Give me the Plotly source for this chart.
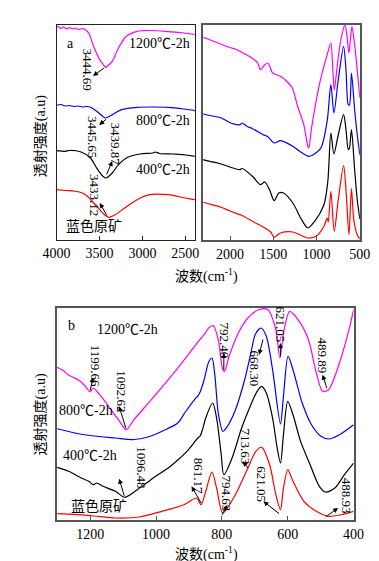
import plotly.graph_objects as go

# ---------------- Panel a (FTIR full range) ----------------
a_1200_wn = [4000,3980,3950,3920,3880,3850,3810,3780,3740,3700,3663,3620,3569,3497,3460,3431,3400,3351,3279,3188,3062,2989,2900,2736,2518,2391,
             2310,2011,1921,1850,1760,1680,1651,1598,1562,1508,1417,1346,1281,1220,1148,1101,1090,1058,968,878,835,815,796,760,720,673,650,626,610,591,560,530,500]
a_1200_tr = [212.7,213.5,211.5,213,211,212.5,211,212,210.5,211.5,210.3,206,193.7,180.3,176,172.7,174.5,178.7,192,203.7,208.7,209.3,209.5,208.7,207,205.3,
             202.7,192.7,190.3,187,182.7,177,170.3,175.3,177,167,163.7,158.7,152,134,115.3,93.7,92,112,155.3,185.3,197,175,150,175,200,215,205,187,200,213.5,195,170,142]

a_800_wn = [4000,3950,3900,3850,3800,3750,3700,3650,3605,3533,3460,3431,3400,3351,3242,3062,2880,2699,2518,2391,
            2310,2101,1994,1886,1860,1800,1741,1616,1560,1490,1417,1274,1184,1094,1040,950,878,835,800,750,688,660,634,620,597,560,530,500]
a_800_tr = [134.7,135.5,134,134.5,133.5,134,133,133.5,132.7,128.7,123.5,122,123,125.3,130.3,132.7,133,132.7,131,129.3,
            126,122,117,115.3,117,113.5,111.3,105.3,103,97,99.3,93.7,88,83.7,85.3,92,118.7,155.3,127,160,193.7,170,135.3,135,167,130,105,85.3]

a_400_wn = [4000,3900,3850,3714,3605,3533,3460,3424,3351,3279,3171,3025,2880,2850,2800,2627,2391,
            2310,2101,1994,1886,1860,1741,1651,1598,1544,1490,1436,1382,1274,1184,1101,1022,915,870,835,800,750,688,660,634,620,597,560,530,500]
a_400_tr = [89.3,88.7,89.5,88,82,72,63.7,62,67,75.3,82.7,86,87,88,86.5,86,83.7,
            80.3,76,72.7,70.3,71.5,63.7,55.3,58,50.3,39.3,47,47,37,22,12,18.7,35.3,58.7,107,86,105,125.3,110,90.3,92,110.3,70,40,21]

a_raw_wn = [4000,3900,3786,3700,3641,3533,3442,3388,3315,3207,3062,2916,2699,2500,2391,
            2310,2101,1994,1867,1741,1598,1530,1490,1417,1274,1101,1000,915,878,865,835,796,750,688,660,626,597,570,530,500]
a_raw_tr = [50.3,49.5,48.7,47,43.7,33.7,25.3,22.7,25.3,32,40.3,45.3,45.3,42,40.3,
            37.7,32.7,28.7,24.7,18.7,12,8,2.7,7,8,2,4,13.7,22,18,48.7,8.7,40,74.3,50,5.3,51.3,20,5,1]

# ---------------- Panel b (1300-400 cm-1) ----------------
b_1200_wn = [1300,1280,1265,1250,1232,1215,1200,1191,1171,1133,1114,1090,1067,1010,934,868,854,840,826,811,797,792,778,750,721,688,660,636,624,611,594,565,537,513,494,476,443,414,400]
b_1200_tr = [152.7,149,144.7,142.5,139.3,134,128,132,125.3,108.7,100.3,90.3,100.3,122,152,180,185.3,192,194.3,180.3,150.3,148.7,163.7,187,202,210.3,210.3,190.3,162,190.3,208.7,198.7,180.3,147,128.7,130.3,157,190.3,210.3]

b_800_wn = [1300,1218,1123,1067,1024,1000,967,934,911,882,873,866,854,840,830,821,811,797,783,759,731,712,698,681,665,646,622,613,599,584,556,528,499,476,443,400]
b_800_tr = [91.3,85.3,82,80.5,83,86,91,97,108,121,124,128,140,158,162,143.7,107,88.7,93.7,110,140,167,186,192,183.7,150.3,96,123.7,163.7,150.3,117,95.3,83.7,81,85.3,95.3]

b_400_wn = [1300,1265,1227,1204,1191,1180,1161,1123,1095,1057,1029,1000,963,934,906,873,866,859,849,828,816,802,794,769,740,712,693,679,665,646,632,622,613,600,584,561,532,504,485,457,428,400]
b_400_tr = [52.7,48.7,42,38.7,35.3,37,33.7,28.7,22.7,30.3,37,44,52,60,68.7,82,84,90.3,102,117,102,65.3,45.3,62,92,115.3,128.7,133.7,127,102,72,57,85.3,118.7,105.3,78.7,55.3,33.7,28,32,45.3,57]

b_raw_wn = [1300,1200,1123,1050,982,915,877,863,849,830,816,797,759,721,697,679,655,636,622,613,600,584,551,513,476,438,400]
b_raw_tr = [6.3,4.5,2,3,8.7,15.3,22,15.3,28.7,48,32,7,25.3,52,68.7,72.7,55.3,25.3,10.3,32,50.3,38.7,18.7,8.7,3.7,5.3,8.7]

series_names = ["1200℃-2h", "800℃-2h", "400℃-2h", "蓝色原矿"]
colors = ["#ff00ff", "#0000ff", "#000000", "#ff0000"]
panel_a = [(a_1200_wn, a_1200_tr), (a_800_wn, a_800_tr), (a_400_wn, a_400_tr), (a_raw_wn, a_raw_tr)]
panel_b = [(b_1200_wn, b_1200_tr), (b_800_wn, b_800_tr), (b_400_wn, b_400_tr), (b_raw_wn, b_raw_tr)]

a_ticks_left = [4000, 3500, 3000, 2500]
a_ticks_right = [2000, 1500, 1000, 500]
b_ticks = [1200, 1000, 800, 600, 400]

SERIF = "Liberation Serif, Noto Sans CJK SC"
fig = go.Figure()
for (wn, tr), c, n in zip(panel_a, colors, series_names):
    for xa, ya in (("x", "y"), ("x2", "y2")):
        fig.add_trace(go.Scatter(x=wn, y=tr, mode="lines", name=n, xaxis=xa, yaxis=ya,
                                 line=dict(color=c, width=1.2, shape="spline", smoothing=0.8)))
for (wn, tr), c, n in zip(panel_b, colors, series_names):
    fig.add_trace(go.Scatter(x=wn, y=tr, mode="lines", name=n, xaxis="x3", yaxis="y3",
                             line=dict(color=c, width=1.2, shape="spline", smoothing=0.8)))

tickfont = dict(family=SERIF, size=14, color="black")
def xax(domain, rng, tv, anchor, lc="#444", lw=1.2):
    return dict(domain=domain, range=rng, anchor=anchor, tickvals=tv, ticks="inside", ticklen=4,
                tickcolor=lc, showline=True, mirror=True, linecolor=lc, linewidth=lw,
                showgrid=False, zeroline=False, tickfont=tickfont)
def yax(domain, rng, anchor, lc="#444", lw=1.2):
    return dict(domain=domain, range=rng, anchor=anchor, showline=True, mirror=True, linecolor=lc,
                linewidth=lw, showticklabels=False, ticks="", showgrid=False, zeroline=False)

fig.update_layout(
    width=379, height=561, margin=dict(l=0, r=0, t=0, b=0),
    paper_bgcolor="white", plot_bgcolor="white", showlegend=False,
    xaxis=xax([0.0976, 0.4881], [4000, 2390], a_ticks_left, "y", "#222", 1),
    yaxis=yax([0.5865, 0.9697], [0, 215], "x", "#222", 1),
    xaxis2=xax([0.5119, 0.9544], [2310, 500], a_ticks_right, "y2", "#555", 1.5),
    yaxis2=yax([0.5865, 0.9697], [0, 215], "x2", "#555", 2),
    xaxis3=xax([0.0976, 0.9367], [1302, 400], b_ticks, "y3", "#555", 1.5),
    yaxis3=yax([0.0873, 0.4652], [0, 212], "x3", "#555", 1.5),
)

ann = []
def label(x, y, t, xr, yr, size=14, angle=0):
    ann.append(dict(x=x, y=y, text=t, xref=xr, yref=yr, showarrow=False, textangle=angle,
                    xanchor="center", yanchor="middle", font=dict(family=SERIF, size=size, color="black")))
def arrow(hx, hy, tx, ty, xr, yr):
    ann.append(dict(x=hx, y=hy, ax=tx, ay=ty, xref=xr, yref=yr, axref=xr, ayref=yr, text="",
                    showarrow=True, arrowhead=2, arrowsize=1, arrowwidth=1, arrowcolor="black", standoff=0))

# panel a labels
label(3840, 196, "a", "x", "y")
label(2800, 196, "1200℃-2h", "x", "y")
label(2760, 119, "800℃-2h", "x", "y")
label(2760, 70, "400℃-2h", "x", "y")
label(3565, 14, "蓝色原矿", "x", "y")
label(3641, 170, "3444.69", "x", "y", 13, 90); arrow(3576, 164, 3431, 173, "x", "y")
label(3587, 103, "3445.65", "x", "y", 13, 90); arrow(3503, 115, 3405, 122, "x", "y")
label(3315, 96, "3439.87", "x", "y", 13, 90); arrow(3351, 79, 3424, 64, "x", "y")
label(3565, 45, "3433.12", "x", "y", 13, 90); arrow(3497, 37, 3405, 23, "x", "y")

# panel b labels
label(1258, 194.7, "b", "x3", "y3")
label(1087, 190.3, "1200℃-2h", "x3", "y3")
label(1214, 109.3, "800℃-2h", "x3", "y3")
label(1200, 64.3, "400℃-2h", "x3", "y3")
label(1174, 13.7, "蓝色原矿", "x3", "y3")
label(1185, 154.3, "1199.66", "x3", "y3", 13, 90); arrow(1191, 142.7, 1201, 128, "x3", "y3")
label(1103, 128.7, "1092.62", "x3", "y3", 13, 90); arrow(1112, 113.7, 1090, 90.3, "x3", "y3")
label(1043, 53, "1096.48", "x3", "y3", 13, 90); arrow(1112, 41.3, 1095, 22.7, "x3", "y3")
label(870, 44.5, "861.17", "x3", "y3", 13, 90); arrow(892, 33.7, 860, 15.3, "x3", "y3")
label(792, 180, "792.40", "x3", "y3", 13, 90); arrow(794, 167, 794, 148.7, "x3", "y3")
label(783, 26, "794.63", "x3", "y3", 13, 90); arrow(783, 15.3, 802, 3.7, "x3", "y3")
label(728, 74, "713.63", "x3", "y3", 13, 90); arrow(736, 58.7, 717, 50.3, "x3", "y3")
label(698, 151, "668.30", "x3", "y3", 13, 90); arrow(687, 165.3, 674, 182, "x3", "y3")
label(622, 195, "621.05", "x3", "y3", 13, 90); arrow(622, 177, 622, 162, "x3", "y3")
label(494, 165, "489.89", "x3", "y3", 13, 90); arrow(494, 145.3, 480, 130.3, "x3", "y3")
label(679, 36, "621.05", "x3", "y3", 13, 90); arrow(674, 18.7, 622, 5.3, "x3", "y3")
label(419, 24, "488.93", "x3", "y3", 13, 90); arrow(447, 12, 490, 2, "x3", "y3")

# axis titles
label(0.52, 0.524, "波数(cm<sup>-1</sup>)", "paper", "paper")
label(0.52, 0.028, "波数(cm<sup>-1</sup>)", "paper", "paper")
label(0.0546, 0.772, "透射强度(a.u)", "paper", "paper", 14, -90)
label(0.0546, 0.276, "透射强度(a.u)", "paper", "paper", 14, -90)

fig.update_layout(annotations=ann)
fig.write_html("out.html")
